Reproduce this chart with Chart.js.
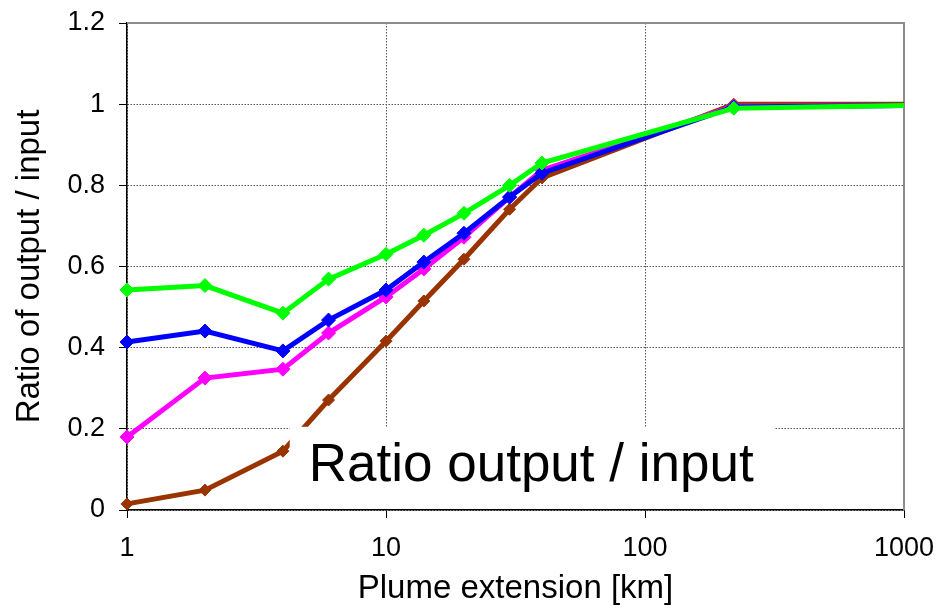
<!DOCTYPE html>
<html>
<head>
<meta charset="utf-8">
<script src="https://cdn.jsdelivr.net/npm/chart.js@4"></script>
<style>
  html, body { margin: 0; padding: 0; background: #fff; }
  #wrap { width: 951px; height: 611px; }
</style>
</head>
<body>
<div id="wrap"><canvas id="chart"></canvas></div>
<script>
// plume extension [km]
const plumeKm = [1, 2, 4, 6, 10, 14, 20, 30, 40, 220, 1000];

const greenSeries   = [0.542, 0.553, 0.485, 0.569, 0.630, 0.677, 0.731, 0.800, 0.855, 0.990, 0.997];
const blueSeries    = [0.414, 0.441, 0.392, 0.468, 0.542, 0.611, 0.682, 0.771, 0.830, 0.993, 0.997];
const magentaSeries = [0.180, 0.325, 0.347, 0.436, 0.525, 0.594, 0.672, 0.771, 0.837, 0.995, 0.997];
const brownSeries   = [0.015, 0.049, 0.145, 0.271, 0.416, 0.515, 0.618, 0.741, 0.818, 1.000, 1.000];

const xTicks = [1, 10, 100, 1000];
const yTickStep = 0.2;

const overlayText = "Ratio output / input";

const FONT = "'Liberation Sans', Arial, sans-serif";

function makeSet(label, values, color, radius) {
  return {
    label: label,
    data: values.map((v, i) => ({ x: plumeKm[i], y: v })),
    borderColor: color,
    backgroundColor: color,
    borderWidth: 5,
    pointStyle: "rectRot",
    pointRadius: values.map((v, i) => i === values.length - 1 ? 0 : radius),
    pointBorderWidth: 1,
    pointBorderColor: color,
    pointBackgroundColor: color,
    tension: 0,
    clip: false
  };
}

// white label box and top/right frame
const overlayPlugin = {
  id: "overlay",
  beforeDatasetsDraw(chart) {
    const a = chart.chartArea;
    const ctx = chart.ctx;
    ctx.save();
    ctx.strokeStyle = "#8c8c8c";
    ctx.lineWidth = 2;
    ctx.beginPath();
    ctx.moveTo(a.left, a.top);
    ctx.lineTo(a.right, a.top);
    ctx.lineTo(a.right, a.bottom);
    ctx.stroke();
    ctx.restore();
  },
  afterDatasetsDraw(chart) {
    const x = chart.scales.x, y = chart.scales.y;
    const ctx = chart.ctx;
    const left = x.getPixelForValue(4.25);
    const right = x.getPixelForValue(315);
    const top = y.getPixelForValue(0.205);
    const bottom = chart.chartArea.bottom - 2;
    ctx.save();
    ctx.fillStyle = "#fff";
    ctx.fillRect(left, top, right - left, bottom - top);
    ctx.fillStyle = "#000";
    ctx.font = "53px " + FONT;
    ctx.textBaseline = "alphabetic";
    ctx.fillText(overlayText, left + 19, top + 54);
    ctx.restore();
  }
};

const ctx = document.getElementById("chart");

new Chart(ctx, {
  type: "line",
  data: {
    datasets: [
      makeSet("green", greenSeries, "#00ff00", 7),
      makeSet("blue", blueSeries, "#0000ff", 7),
      makeSet("magenta", magentaSeries, "#ff00ff", 7),
      makeSet("brown", brownSeries, "#993300", 6)
    ]
  },
  options: {
    responsive: true,
    maintainAspectRatio: false,
    animation: false,
    layout: { padding: { top: 23, right: 47, left: 0, bottom: 0 } },
    plugins: {
      legend: { display: false },
      tooltip: { enabled: false }
    },
    scales: {
      x: {
        type: "logarithmic",
        min: 1,
        max: 1000,
        afterBuildTicks: (scale) => {
          scale.ticks = xTicks.map(v => ({ value: v }));
        },
        afterFit: (scale) => {
          scale.height = 101;
          scale.paddingLeft = 0;
          scale.paddingRight = 0;
        },
        ticks: {
          color: "#000",
          font: { family: FONT, size: 27 },
          padding: 14,
          maxRotation: 0,
          callback: (v) => String(v)
        },
        grid: {
          color: "#555",
          lineWidth: 1,
          tickLength: 8,
          tickColor: "#000"
        },
        border: { display: true, color: "#000", width: 1.5, dash: [1.5, 1.5] },
        title: {
          display: true,
          text: "Plume extension [km]",
          color: "#000",
          font: { family: FONT, size: 33 },
          padding: { top: 0, bottom: 2 }
        }
      },
      y: {
        min: 0,
        max: 1.2,
        afterFit: (scale) => {
          scale.width = 127;
          scale.paddingTop = 0;
          scale.paddingBottom = 0;
        },
        ticks: {
          stepSize: yTickStep,
          color: "#000",
          font: { family: FONT, size: 27 },
          padding: 14,
          callback: (v) => String(Number(v.toFixed(1)))
        },
        grid: {
          color: "#555",
          lineWidth: 1,
          tickLength: 8,
          tickColor: "#000"
        },
        border: { display: true, color: "#000", width: 1.5, dash: [1.5, 1.5] },
        title: {
          display: true,
          text: "Ratio of output / input",
          color: "#000",
          font: { family: FONT, size: 33 },
          padding: { top: 10, bottom: 4 }
        }
      }
    }
  },
  plugins: [overlayPlugin]
});
</script>
</body>
</html>
